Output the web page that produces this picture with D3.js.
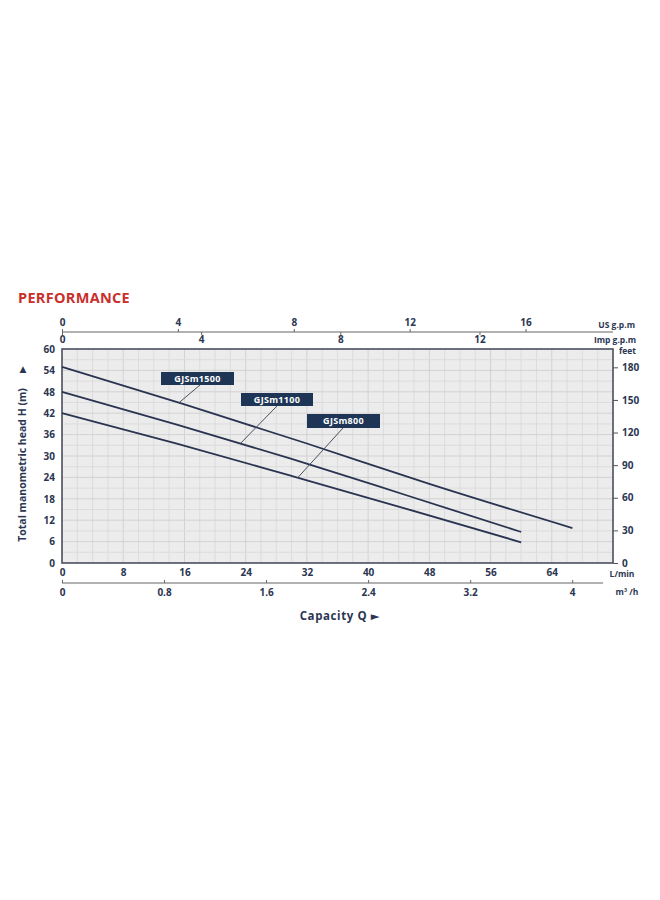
<!DOCTYPE html>
<html><head><meta charset="utf-8">
<script src="https://cdn.jsdelivr.net/npm/d3@7"></script>
<style>
body{margin:0;background:#fff;}
text{font-family:"Open Sans","DejaVu Sans",sans-serif;font-weight:700;fill:#2b3652;}
</style></head><body>
<svg id="c" width="660" height="900"></svg>
<script>
// ---- data ----
const series = ["GJSm1500","GJSm1100","GJSm800"];
const qLmin1500 = [0,16,32,48,66.7];
const h1500     = [55,44.5,33.5,22.2,9.8];
const qLmin1100 = [0,15,30,45,60];
const h1100     = [48,38.8,29.2,19.0,8.7];
const qLmin800  = [0,15,30,45,60];
const h800      = [42,33.5,24.4,15.2,5.8];
const yTicks    = [0,6,12,18,24,30,36,42,48,54,60];
const feetTicks = [0,30,60,90,120,150,180];
const lminTicks = [0,8,16,24,32,40,48,56,64];
const m3hTicks  = [0,0.8,1.6,2.4,3.2,4];
const usTicks   = [0,4,8,12,16];
const impTicks  = [0,4,8,12];

const svg = d3.select("#c");
const L=62, R=613, T=349, B=563;
const x = d3.scaleLinear().domain([0,72]).range([L,R]);
const y = d3.scaleLinear().domain([0,60]).range([B,T]);

// title
svg.append("text").attr("x",18).attr("y",303).attr("font-size",14.5)
  .style("fill","#c9302c").style("letter-spacing","0.3px").text("PERFORMANCE");

// plot bg
svg.append("rect").attr("x",L).attr("y",T).attr("width",R-L).attr("height",B-T).attr("fill","#ececec");
// grid
const g = svg.append("g");
d3.range(2,72,2).forEach(v=>{
  g.append("line").attr("x1",x(v)).attr("x2",x(v)).attr("y1",T).attr("y2",B)
   .attr("stroke", v%8===0?"#d2d2d2":"#dcdcdc").attr("stroke-width",1);
});
d3.range(3,60,3).forEach(v=>{
  g.append("line").attr("x1",L).attr("x2",R).attr("y1",y(v)).attr("y2",y(v))
   .attr("stroke", v%6===0?"#d2d2d2":"#dcdcdc").attr("stroke-width",1);
});
// frame
svg.append("rect").attr("x",L).attr("y",T).attr("width",R-L).attr("height",B-T)
  .attr("fill","none").attr("stroke","#4a4f5c").attr("stroke-width",1.6);

// left axis
const yAx = svg.append("g").attr("transform",`translate(${L},0)`)
  .call(d3.axisLeft(y).tickValues(yTicks).tickSize(0).tickPadding(7));
yAx.select(".domain").remove();
yAx.selectAll("text").attr("font-size",10).style("font-family",null);

// right axis feet
const yFeet = d3.scaleLinear().domain([0,60/0.3048]).range([B,T]);
const fAx = svg.append("g").attr("transform",`translate(${R},0)`)
  .call(d3.axisRight(yFeet).tickValues(feetTicks).tickSize(5).tickPadding(4));
fAx.select(".domain").remove();
fAx.selectAll("line").attr("stroke","#555");
fAx.selectAll("text").attr("font-size",10).style("font-family",null);
svg.append("text").attr("x",636).attr("y",354).attr("text-anchor","end").attr("font-size",8.5).text("feet");

// bottom L/min
const bAx = svg.append("g").attr("transform",`translate(0,${B})`)
  .call(d3.axisBottom(x).tickValues(lminTicks).tickSize(0).tickPadding(6));
bAx.select(".domain").remove();
bAx.selectAll("text").attr("font-size",10).style("font-family",null);
svg.append("text").attr("x",622).attr("y",577).attr("text-anchor","middle").attr("font-size",8.5).text("L/min");

// m3/h
const xm3 = d3.scaleLinear().domain([0,72*60/1000]).range([L,R]);
svg.append("line").attr("x1",L).attr("x2",603).attr("y1",583).attr("y2",583).attr("stroke","#666").attr("stroke-width",1.2);
const mAx = svg.append("g").attr("transform","translate(0,583)")
  .call(d3.axisTop(xm3).tickValues(m3hTicks).tickSize(3).tickFormat(d=>d));
mAx.select(".domain").remove();
mAx.selectAll("line").attr("stroke","#666");
mAx.selectAll("text").attr("font-size",10).style("font-family",null).attr("y",13).attr("dy","0");
svg.append("text").attr("x",627).attr("y",595).attr("text-anchor","middle").attr("font-size",8.5).text("m³ /h");

// top US / Imp
const xus = d3.scaleLinear().domain([0,72/3.78541]).range([L,R]);
const ximp = d3.scaleLinear().domain([0,72/4.54609]).range([L,R]);
svg.append("line").attr("x1",L).attr("x2",R).attr("y1",332).attr("y2",332).attr("stroke","#666").attr("stroke-width",1.2);
const uAx = svg.append("g").attr("transform","translate(0,332)")
  .call(d3.axisTop(xus).tickValues(usTicks).tickSize(3).tickPadding(3));
uAx.select(".domain").remove();
uAx.selectAll("line").attr("stroke","#666");
uAx.selectAll("text").attr("font-size",10).style("font-family",null);
const iAx = svg.append("g").attr("transform","translate(0,332)")
  .call(d3.axisBottom(ximp).tickValues(impTicks).tickSize(3).tickPadding(1));
iAx.select(".domain").remove();
iAx.selectAll("line").attr("stroke","#666");
iAx.selectAll("text").attr("font-size",10).style("font-family",null);
svg.append("text").attr("x",635).attr("y",328).attr("text-anchor","end").attr("font-size",8.5).text("US g.p.m");
svg.append("text").attr("x",636).attr("y",343).attr("text-anchor","end").attr("font-size",8.5).text("Imp g.p.m");

// y title
svg.append("text").attr("transform","translate(26,465) rotate(-90)").attr("text-anchor","middle")
  .attr("font-size",10.5).text("Total  manometric  head  H  (m)");
svg.append("text").attr("x",23).attr("y",372).attr("text-anchor","middle").attr("font-size",9).text("▲");

// x title
svg.append("text").attr("x",340).attr("y",620).attr("text-anchor","middle").attr("font-size",11.5)
  .style("letter-spacing","0.6px").text("Capacity Q  ►");

// curves
const curves = [
  {q:qLmin1500,h:h1500},{q:qLmin1100,h:h1100},{q:qLmin800,h:h800}
];
const line = d3.line().x(d=>x(d[0])).y(d=>y(d[1])).curve(d3.curveMonotoneX);
curves.forEach(c=>{
  svg.append("path").datum(c.q.map((q,i)=>[q,c.h[i]])).attr("d",line)
    .attr("fill","none").attr("stroke","#2a3450").attr("stroke-width",1.8);
});

// labels
const labelBox = [[161,372,73,13],[241,393,72,13],[307,414,73,14]];
const leaders = [[200,385,15.3],[277,406,23.3],[343,428,30.8]];
const hAt = (c,q)=>{
  const i = d3.bisectLeft(c.q,q); const i0=Math.max(1,i);
  const t=(q-c.q[i0-1])/(c.q[i0]-c.q[i0-1]);
  return c.h[i0-1]+t*(c.h[i0]-c.h[i0-1]);
};
series.forEach((s,i)=>{
  const [bx,by,bw,bh]=labelBox[i];
  const [lx,ly,lq]=leaders[i];
  svg.append("line").attr("x1",lx).attr("y1",ly).attr("x2",x(lq)).attr("y2",y(hAt(curves[i],lq)))
    .attr("stroke","#4a4f5c").attr("stroke-width",1);
  svg.append("rect").attr("x",bx).attr("y",by).attr("width",bw).attr("height",bh).attr("fill","#1e3556");
  svg.append("text").attr("x",bx+bw/2).attr("y",by+bh/2+3.2).attr("text-anchor","middle")
    .attr("font-size",9).style("letter-spacing","0.3px").style("fill","#fff").text(s);
});
</script></body></html>
